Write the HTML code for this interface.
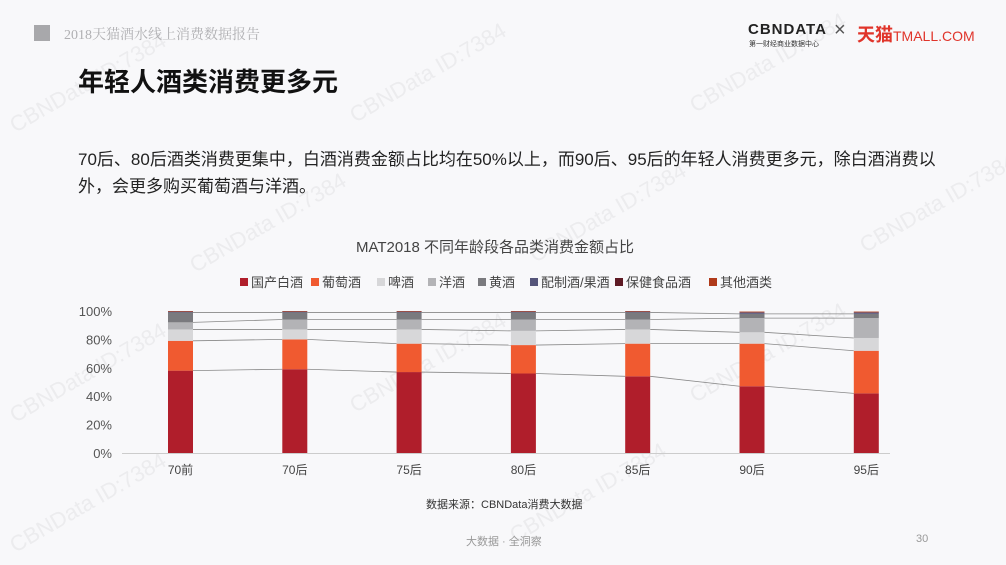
<!DOCTYPE html>
<html><head><meta charset="utf-8">
<style>
body{margin:0;width:1006px;height:565px;background:#f8f8fa;font-family:"Liberation Sans","Noto Sans CJK SC",sans-serif;position:relative;overflow:hidden}
.abs{position:absolute;white-space:nowrap}
.wm{position:absolute;color:rgba(200,200,205,0.25);font-size:22px;transform:rotate(-30deg);white-space:nowrap}
</style></head><body>
<div class="wm" style="left:0;top:70px">CBNData ID:7384</div>
<div class="wm" style="left:340px;top:60px">CBNData ID:7384</div>
<div class="wm" style="left:680px;top:50px">CBNData ID:7384</div>
<div class="wm" style="left:180px;top:210px">CBNData ID:7384</div>
<div class="wm" style="left:520px;top:200px">CBNData ID:7384</div>
<div class="wm" style="left:850px;top:190px">CBNData ID:7384</div>
<div class="wm" style="left:0;top:360px">CBNData ID:7384</div>
<div class="wm" style="left:340px;top:350px">CBNData ID:7384</div>
<div class="wm" style="left:680px;top:340px">CBNData ID:7384</div>
<div class="wm" style="left:0;top:490px">CBNData ID:7384</div>
<div class="wm" style="left:500px;top:480px">CBNData ID:7384</div>

<div class="abs" style="left:34px;top:25px;width:16px;height:16px;background:#a8a8ab"></div>
<div class="abs" style="left:64px;top:24px;font-size:14px;color:#b0b0b3;font-family:'Liberation Serif','Noto Serif CJK SC',serif">2018天猫酒水线上消费数据报告</div>
<div class="abs" style="left:748px;top:21px;font-size:15px;font-weight:bold;color:#222;letter-spacing:1px">CBNDATA</div>
<div class="abs" style="left:749px;top:39px;font-size:7px;color:#333">第一财经商业数据中心</div>
<div class="abs" style="left:834px;top:19px;font-size:20px;color:#555">×</div>
<div class="abs" style="left:857px;top:21px;font-size:18px;color:#e0342a;font-weight:bold">天猫<span style="font-size:14px;font-weight:normal">TMALL.COM</span></div>

<div class="abs" style="left:78px;top:62px;font-size:26px;font-weight:bold;color:#111">年轻人酒类消费更多元</div>
<div class="abs" style="left:78px;top:146px;font-size:17px;color:#222;line-height:27px;white-space:normal;width:880px">70后、80后酒类消费更集中，白酒消费金额占比均在50%以上，而90后、95后的年轻人消费更多元，除白酒消费以外，会更多购买葡萄酒与洋酒。</div>

<svg id="chart" style="position:absolute;left:0;top:0" width="1006" height="565"></svg>

<div class="abs" style="left:426px;top:496px;font-size:11px;color:#333">数据来源：CBNData消费大数据</div>
<div class="abs" style="left:466px;top:533px;font-size:11px;color:#999">大数据 · 全洞察</div>
<div class="abs" style="left:916px;top:533px;font-size:11px;color:#999">30</div>

<script>
const categories=["70前","70后","75后","80后","85后","90后","95后"];
const seriesNames=["国产白酒","葡萄酒","啤酒","洋酒","黄酒","配制酒/果酒","保健食品酒","其他酒类"];
const baijiu=[58,59,57,56,54,47,42];
const wine=[21,21,20,20,23,30,30];
const beer=[8,7,10,10,10,8,9];
const spirits=[5,7,7,8,7,10,14];
const huangjiu=[7,5,5,5,5,3,3];
const peizhi=[0.4,0.4,0.4,0.4,0.4,0.8,0.8];
const baojian=[0.3,0.3,0.3,0.3,0.3,0.4,0.4];
const other=[0.3,0.3,0.3,0.3,0.3,0.4,0.4];
const yTicks=[0,20,40,60,80,100];
const series=[baijiu,wine,beer,spirits,huangjiu,peizhi,baojian,other];
const colors=["#b01e2b","#f05a30","#d7d7d9","#b3b3b6","#7a7a7e","#55557a","#5e1a24","#b03a1a"];
const NS="http://www.w3.org/2000/svg";
const svg=document.getElementById("chart");
const x0=168,step=114.3,bw=25,yBase=453,yTop=311;
function X(i){return x0+i*step;}
function Y(v){return yBase-(v/100)*(yBase-yTop);}
function mk(t,a){const e=document.createElementNS(NS,t);for(const k in a)e.setAttribute(k,a[k]);svg.appendChild(e);return e;}
let t=mk("text",{x:495,y:252,"text-anchor":"middle","font-size":15,fill:"#444"});t.textContent="MAT2018  不同年龄段各品类消费金额占比";


const lx=[240,311,377,428,478,530,615,709];
seriesNames.forEach((n,i)=>{
 const r=mk("rect",{x:lx[i],y:278,width:8,height:8,fill:colors[i]});
 
 
 const tx=mk("text",{x:lx[i]+11,y:287,"font-size":13,fill:"#444"});tx.textContent=n;
 
 
});
yTicks.forEach(v=>{
 const tx=mk("text",{x:112,y:Y(v)+5,"text-anchor":"end","font-size":13,fill:"#555"});tx.textContent=v+"%";
 
 
});
const ax=mk("line",{x1:122,x2:890,y1:yBase+0.5,y2:yBase+0.5,stroke:"#ccc"});


const cum=categories.map((c,i)=>{let s=0;return series.map(a=>{s+=a[i];return s;});});
for(let k=0;k<series.length;k++){
 if(k>=5)continue;
 for(let i=0;i<categories.length-1;i++){
  const l=mk("line",{x1:X(i)+bw,y1:Y(cum[i][k]),x2:X(i+1),y2:Y(cum[i+1][k]),stroke:"#888","stroke-width":0.8});
  
  
 }
}
categories.forEach((c,i)=>{
 let base=0;
 series.forEach((a,k)=>{
  const top=base+a[i];
  const r=mk("rect",{x:X(i),y:Y(top),width:bw,height:Y(base)-Y(top),fill:colors[k]});
  
  
  base=top;
 });
 const tx=mk("text",{x:X(i)+bw/2,y:474,"text-anchor":"middle","font-size":12,fill:"#444"});tx.textContent=c;
 
 
});
</script>
</body></html>
